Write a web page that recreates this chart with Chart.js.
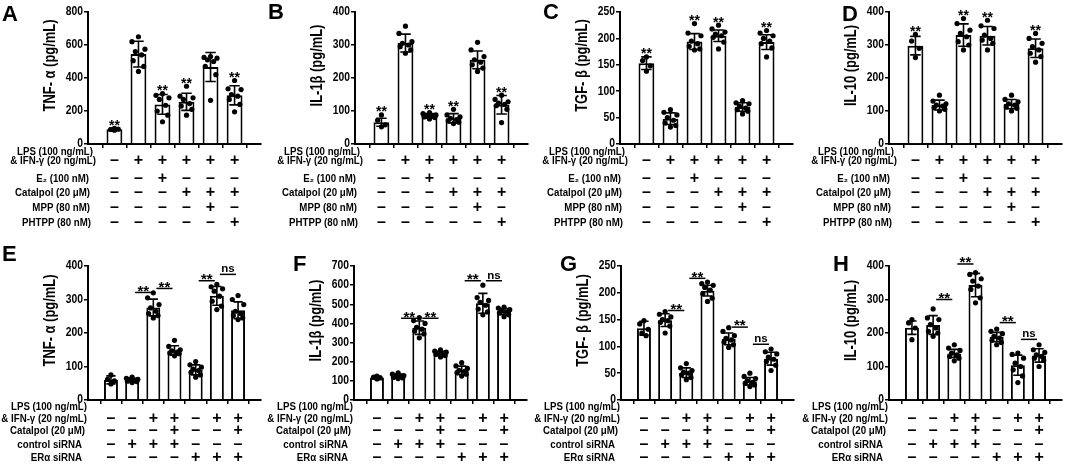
<!DOCTYPE html>
<html>
<head>
<meta charset="utf-8">
<script src="https://cdn.jsdelivr.net/npm/chart.js@4.4.1/dist/chart.umd.min.js"></script>
<style>
html, body { margin: 0; padding: 0; background: #fff; overflow: hidden; }
#fig { position: relative; width: 1065px; height: 466px; overflow: hidden; }
#fig canvas { position: absolute; }
</style>
</head>
<body>
<div id="fig"></div>
<script>
// ---- data ----
const groupsTop = ['1', '2', '3', '4', '5', '6'];
const groupsBottom = ['1', '2', '3', '4', '5', '6', '7'];

const rowLabelsTop = ['LPS (100 ng/mL)', '& IFN-γ (20 ng/mL)', 'E₂ (100 nM)', 'Catalpol (20 μM)', 'MPP (80 nM)', 'PHTPP (80 nM)'];
const signsTop = [null, [0, 1, 1, 1, 1, 1], [0, 0, 1, 0, 0, 0], [0, 0, 0, 1, 1, 1], [0, 0, 0, 0, 1, 0], [0, 0, 0, 0, 0, 1]];
const rowLabelsBottom = ['LPS (100 ng/mL)', '& IFN-γ (20 ng/mL)', 'Catalpol (20 μM)', 'control siRNA', 'ERα siRNA'];
const signsBottom = [null, [0, 0, 1, 1, 0, 1, 1], [0, 0, 0, 1, 0, 0, 1], [0, 1, 1, 1, 0, 0, 0], [0, 0, 0, 0, 1, 1, 1]];

const titlesTop = ['TNF- α (pg/mL)', 'IL-1β (pg/mL)', 'TGF- β (pg/mL)', 'IL-10 (pg/mL)'];
const titlesBottom = ['TNF- α (pg/mL)', 'IL-1β (pg/mL)', 'TGF- β (pg/mL)', 'IL-10 (pg/mL)'];

const sigTop = ['**', '', '**', '**', '', '**'];

// A  TNF-a
const meanA = [89, 545, 240, 256, 467, 295];
const sdA = [8, 78, 60, 52, 88, 58];
const ptsA = [[84, 88, 91, 95], [650, 620, 575, 560, 540, 505, 470, 440], [305, 295, 280, 270, 235, 200, 175, 135],
    [350, 290, 280, 270, 245, 230, 210, 175], [530, 525, 520, 510, 500, 470, 420, 265], [385, 335, 330, 300, 290, 270, 240, 195]];
// B  IL-1b
const meanB = [66, 306, 85, 78, 255, 119];
const sdB = [12, 27, 7, 14, 27, 28];
const ptsB = [[88, 72, 58, 52], [357, 335, 310, 305, 300, 295, 285, 275], [95, 92, 88, 86, 84, 82, 80, 76],
    [105, 88, 82, 78, 74, 70, 66, 62], [308, 285, 265, 255, 248, 240, 230, 220], [148, 135, 128, 124, 120, 116, 105, 65]];
// C  TGF-b
const meanC = [153, 48, 194, 205, 70, 193];
const sdC = [12, 11, 15, 11, 8, 14];
const ptsC = [[165, 158, 148, 138], [65, 60, 55, 50, 45, 40, 35, 32], [228, 210, 205, 195, 190, 185, 180, 178],
    [225, 218, 212, 208, 205, 202, 193, 180], [82, 78, 76, 72, 68, 65, 62, 57], [215, 210, 205, 200, 195, 190, 182, 165]];
// D  IL-10
const meanD = [298, 118, 330, 328, 121, 290];
const sdD = [28, 15, 34, 28, 14, 28];
const ptsD = [[332, 312, 290, 262], [148, 130, 122, 118, 115, 110, 105, 100], [380, 365, 345, 335, 325, 310, 300, 285],
    [375, 358, 350, 330, 320, 315, 305, 285], [148, 135, 128, 122, 118, 112, 108, 100], [335, 320, 305, 295, 285, 275, 265, 248]];
// E  TNF-a (siRNA)
const meanE = [60, 60, 276, 148, 90, 311, 268];
const sdE = [12, 5, 25, 14, 15, 28, 25];
const ptsE = [[75, 62, 57, 48], [68, 65, 62, 60, 58, 56, 55, 52], [320, 305, 285, 275, 265, 258, 252, 245],
    [178, 160, 150, 147, 143, 140, 138, 132], [115, 105, 98, 92, 88, 82, 75, 68], [345, 338, 332, 325, 310, 295, 280, 270],
    [312, 300, 285, 265, 258, 252, 245, 240]];
const brE = [[1, 2, 321, '**'], [2, 3, 333, '**'], [4, 5, 356, '**'], [5, 6, 375, 'ns']];
// F  IL-1b (siRNA)
const meanF = [117, 125, 378, 244, 155, 505, 462];
const sdF = [8, 10, 35, 10, 22, 52, 16];
const ptsF = [[125, 120, 115, 110], [142, 135, 128, 125, 122, 118, 115, 112], [430, 415, 400, 380, 370, 360, 345, 325],
    [262, 255, 250, 245, 242, 238, 232, 225], [195, 178, 165, 155, 150, 142, 135, 125], [600, 535, 520, 510, 495, 475, 460, 445],
    [485, 480, 472, 465, 460, 455, 445, 435]];
const brF = [[1, 2, 427, '**'], [2, 3, 427, '**'], [4, 5, 623, '**'], [5, 6, 623, 'ns']];
// G  TGF-b (siRNA)
const meanG = [134, 149, 51, 204, 114, 35, 77];
const sdG = [13, 12, 9, 10, 11, 7, 12];
const ptsG = [[148, 142, 132, 125, 120], [165, 160, 155, 150, 148, 145, 138, 125], [68, 60, 55, 52, 50, 47, 42, 38],
    [220, 217, 214, 210, 205, 198, 190, 184], [135, 128, 120, 115, 112, 108, 103, 98], [50, 44, 40, 36, 33, 31, 28, 25],
    [95, 90, 86, 80, 76, 72, 65, 55]];
const brG = [[1, 2, 167, '**'], [2, 3, 227, '**'], [4, 5, 136, '**'], [5, 6, 104, 'ns']];
// H  IL-10 (siRNA)
const meanH = [216, 224, 139, 343, 188, 104, 133];
const sdH = [20, 28, 12, 35, 14, 30, 20];
const ptsH = [[240, 230, 215, 180], [272, 245, 240, 225, 215, 205, 200, 190], [165, 155, 148, 140, 135, 130, 125, 117],
    [380, 375, 362, 355, 340, 330, 305, 290], [212, 205, 198, 190, 185, 178, 172, 165], [140, 136, 125, 110, 100, 90, 72, 52],
    [165, 150, 142, 135, 130, 125, 118, 100]];
const brH = [[1, 2, 300, '**'], [2, 3, 406, '**'], [4, 5, 231, '**'], [5, 6, 181, 'ns']];

const yMax = [800, 400, 250, 400, 400, 700, 250, 400];
const yStep = [200, 100, 50, 100, 100, 100, 50, 100];

// ---- layout (page pixels) ----
const FONT = '"Liberation Sans", Arial, Helvetica, sans-serif';
const PANEL_W = 286, PANEL_H = 233, AXIS_IN = 108, PLOT_W = 173;
const rowTop = [{ top: 12, bottom: 144, labelY: [152, 161, 179, 193, 208, 223], labelDx: [5, 8, 1, 2, 2, 3] },
                { top: 266, bottom: 400, labelY: [407, 419, 431, 445, 458], labelDx: [-1, -1, -3, -6, -6] }];
const jitter8 = [0, -0.27, 0.27, -0.13, 0.13, -0.22, 0.22, 0];
const jitter5 = [0, -0.2, 0.2, -0.1, 0.1];
const jitter4 = [0, -0.16, 0.16, 0];

const panels = [
    { letter: 'A', lx: 2, ly: 5, axisX: 88, row: 0, title: titlesTop[0], mean: meanA, sd: sdA, pts: ptsA, sig: sigTop },
    { letter: 'B', lx: 268, ly: 3, axisX: 355, row: 0, title: titlesTop[1], mean: meanB, sd: sdB, pts: ptsB, sig: sigTop },
    { letter: 'C', lx: 543, ly: 3, axisX: 620, row: 0, title: titlesTop[2], mean: meanC, sd: sdC, pts: ptsC, sig: sigTop },
    { letter: 'D', lx: 842, ly: 5, axisX: 889, row: 0, title: titlesTop[3], mean: meanD, sd: sdD, pts: ptsD, sig: sigTop },
    { letter: 'E', lx: 2, ly: 245, axisX: 88, row: 1, title: titlesBottom[0], mean: meanE, sd: sdE, pts: ptsE, br: brE },
    { letter: 'F', lx: 293, ly: 255, axisX: 354, row: 1, title: titlesBottom[1], mean: meanF, sd: sdF, pts: ptsF, br: brF },
    { letter: 'G', lx: 560, ly: 255, axisX: 621, row: 1, title: titlesBottom[2], mean: meanG, sd: sdG, pts: ptsG, br: brG },
    { letter: 'H', lx: 833, ly: 255, axisX: 889, row: 1, title: titlesBottom[3], mean: meanH, sd: sdH, pts: ptsH, br: brH }
];

// text helper; sx squeezes the lettering horizontally like the figure's
function txt(ctx, s, x, y, size, align, sx, baseline) {
    ctx.save();
    ctx.translate(x, y);
    ctx.scale(sx, 1);
    ctx.font = 'bold ' + size + 'px ' + FONT;
    ctx.textAlign = align;
    ctx.textBaseline = baseline || 'middle';
    ctx.fillStyle = '#000';
    ctx.fillText(s, 0, 0);
    ctx.restore();
}

const figurePlugin = {
    id: 'figure',
    afterDatasetsDraw(chart) {
        const p = chart.options.plugins.figure;
        const ctx = chart.ctx;
        const ys = chart.scales.y;
        const bars = chart.getDatasetMeta(1).data;
        ctx.save();
        ctx.strokeStyle = '#000';
        ctx.lineWidth = 1.6;
        bars.forEach((b, i) => {
            const yt = ys.getPixelForValue(p.mean[i] + p.sd[i]);
            const yb = ys.getPixelForValue(p.mean[i] - p.sd[i]);
            const cw = b.width * 0.33;
            ctx.beginPath();
            ctx.moveTo(b.x, yt); ctx.lineTo(b.x, yb);
            ctx.moveTo(b.x - cw, yt); ctx.lineTo(b.x + cw, yt);
            ctx.moveTo(b.x - cw, yb); ctx.lineTo(b.x + cw, yb);
            ctx.stroke();
        });
        ctx.restore();
    },
    afterDraw(chart) {
        const p = chart.options.plugins.figure;
        const ctx = chart.ctx;
        const xs = chart.scales.x, ys = chart.scales.y;
        const area = chart.chartArea;
        const ox = p.axisX - AXIS_IN, oy = p.row * PANEL_H;
        const rl = rowTop[p.row];

        // panel letter
        txt(ctx, p.letter, p.lx - ox, p.ly - oy + 16, 22, 'left', 1, 'alphabetic');

        // y tick labels
        ys.ticks.forEach(t => {
            txt(ctx, String(t.value), area.left - 5, ys.getPixelForValue(t.value), 12, 'right', 0.86);
        });

        // y title
        ctx.save();
        ctx.translate(area.left - 38, (area.top + area.bottom) / 2 - 12.5);
        ctx.rotate(-Math.PI / 2);
        txt(ctx, p.title, 0, 0, 17, 'center', 0.76);
        ctx.restore();

        // significance over single bars
        if (p.sig) {
            p.sig.forEach((s, i) => {
                if (!s) return;
                const top = Math.min(ys.getPixelForValue(p.mean[i] + p.sd[i]),
                    ys.getPixelForValue(Math.max.apply(null, p.pts[i])) - 2.5);
                txt(ctx, s, xs.getPixelForValue(i), top - 2 + 0.42 * 14, 14, 'center', 1, 'alphabetic');
            });
        }

        // comparison lines
        if (p.br) {
            ctx.save();
            ctx.strokeStyle = '#000';
            ctx.lineWidth = 1.5;
            p.br.forEach(([a, b, v, s]) => {
                const x1 = xs.getPixelForValue(a) + 3, x2 = xs.getPixelForValue(b) - 2;
                const y = ys.getPixelForValue(v);
                ctx.beginPath();
                ctx.moveTo(x1, y); ctx.lineTo(x2, y);
                ctx.stroke();
                if (s === 'ns') txt(ctx, s, (x1 + x2) / 2, y - 2, 11.5, 'center', 1, 'alphabetic');
                else txt(ctx, s, (x1 + x2) / 2, y - 3 + 0.42 * 15, 15, 'center', 1, 'alphabetic');
            });
            ctx.restore();
        }

        // treatment table
        p.rows.forEach((label, r) => {
            const y = rl.labelY[r] - oy;
            txt(ctx, label, area.left + rl.labelDx[r], y, 10, 'right', 0.97);
            const signs = p.signs[r];
            if (!signs) return;
            signs.forEach((on, i) => {
                txt(ctx, on ? '+' : '–', xs.getPixelForValue(i), y, 16, 'center', 1);
            });
        });
    }
};

function makePanel(p) {
    const rl = rowTop[p.row];
    const groups = p.row === 0 ? groupsTop : groupsBottom;
    const n = groups.length;
    const canvas = document.createElement('canvas');
    canvas.width = PANEL_W;
    canvas.height = PANEL_H;
    canvas.style.left = (p.axisX - AXIS_IN) + 'px';
    canvas.style.top = (p.row * PANEL_H) + 'px';
    document.getElementById('fig').appendChild(canvas);

    const dots = [];
    p.pts.forEach((vals, i) => {
        const jit = vals.length >= 8 ? jitter8 : (vals.length === 5 ? jitter5 : jitter4);
        vals.forEach((v, k) => dots.push({ x: i + jit[k], y: v }));
    });

    const oy = p.row * PANEL_H;
    new Chart(canvas, {
        data: {
            datasets: [
                {
                    type: 'scatter',
                    data: dots,
                    pointRadius: 2.6,
                    pointBackgroundColor: '#000',
                    pointBorderWidth: 0,
                    clip: false,
                    order: 0
                },
                {
                    type: 'bar',
                    data: p.mean.map((m, i) => ({ x: i, y: m })),
                    backgroundColor: '#fff',
                    borderColor: '#000',
                    borderWidth: 2,
                    barPercentage: 0.66,
                    categoryPercentage: 1,
                    order: 1
                }
            ]
        },
        options: {
            responsive: false,
            animation: false,
            events: [],
            layout: {
                padding: {
                    left: AXIS_IN,
                    right: PANEL_W - AXIS_IN - PLOT_W,
                    top: rl.top - oy,
                    bottom: oy + PANEL_H - rl.bottom
                }
            },
            scales: {
                x: {
                    type: 'linear',
                    bounds: 'data',
                    min: -0.5,
                    max: n - 0.5,
                    afterBuildTicks: s => {
                        s.min = -0.5;
                        s.max = n - 0.5;
                        s.ticks = groups.map((g, i) => ({ value: i }));
                    },
                    grid: { drawOnChartArea: false, drawTicks: true, tickLength: 4, color: '#000', lineWidth: 1.5 },
                    border: { display: true, color: '#000', width: 2 },
                    ticks: { display: false },
                    afterFit: s => { s.height = 0; }
                },
                y: {
                    type: 'linear',
                    min: 0,
                    max: p.yMax,
                    ticks: { display: false, stepSize: p.yStep },
                    grid: { drawOnChartArea: false, drawTicks: true, tickLength: 4, color: '#000', lineWidth: 1.5 },
                    border: { display: true, color: '#000', width: 2 },
                    afterFit: s => { s.width = 0; }
                }
            },
            plugins: {
                legend: { display: false },
                tooltip: { enabled: false },
                figure: p
            }
        },
        plugins: [figurePlugin]
    });
}

panels.forEach((p, k) => {
    p.yMax = yMax[k];
    p.yStep = yStep[k];
    p.rows = p.row === 0 ? rowLabelsTop : rowLabelsBottom;
    p.signs = p.row === 0 ? signsTop : signsBottom;
    makePanel(p);
});
</script>
</body>
</html>
